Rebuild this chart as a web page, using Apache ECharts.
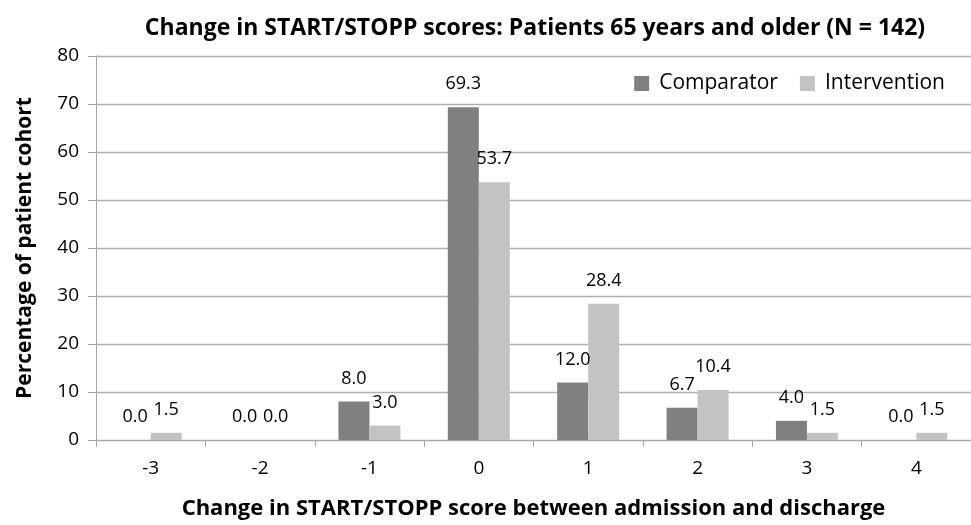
<!DOCTYPE html>
<html>
<head>
<meta charset="utf-8">
<script src="https://cdn.jsdelivr.net/npm/echarts@6/dist/echarts.min.js"></script>
<style>html,body{margin:0;padding:0;background:#fff}#c{width:971px;height:525px}</style>
</head>
<body>
<div id="c"></div>
<script>
const categories = ['-3', '-2', '-1', '0', '1', '2', '3', '4'];
const comparator = [0.0, 0.0, 8.0, 69.3, 12.0, 6.7, 4.0, 0.0];
const intervention = [1.5, 0.0, 3.0, 53.7, 28.4, 10.4, 1.5, 1.5];
const yTicks = { min: 0, max: 80, interval: 10 };
const titleText = 'Change in START/STOPP scores: Patients 65 years and older (N = 142)';
const xTitle = 'Change in START/STOPP score between admission and discharge';
const yTitle = 'Percentage of patient cohort';

const FONT = '"Open Sans"';
const chart = echarts.init(document.getElementById('c'), null, { renderer: 'canvas' });
const lbl = {
  show: true, position: 'top', distance: 14,
  fontFamily: FONT, fontSize: 18, color: '#000',
  formatter: p => Number(p.value).toFixed(1)
};
chart.setOption({
  animation: false,
  backgroundColor: '#fff',
  title: {
    text: titleText, left: 530, top: 12, textAlign: 'center',
    textStyle: { fontFamily: FONT, fontWeight: 'bold', fontSize: 23, color: '#000' }
  },
  legend: {
    right: 21, top: 68, icon: 'rect', itemWidth: 15, itemHeight: 15, itemGap: 22,
    textStyle: { fontFamily: FONT, fontSize: 21, color: '#000', padding: [0, 0, 0, 5] },
    data: ['Comparator', 'Intervention']
  },
  grid: { left: 96, right: 0, top: 56, bottom: 81, containLabel: false },
  xAxis: {
    type: 'category', data: categories,
    name: xTitle, nameLocation: 'middle', nameGap: 58,
    nameTextStyle: { fontFamily: FONT, fontWeight: 'bold', fontSize: 22, color: '#000' },
    axisLine: { lineStyle: { color: '#a6a6a6', width: 1 } },
    axisTick: { show: true, length: 7, interval: 0, alignWithLabel: false, lineStyle: { color: '#a6a6a6' } },
    axisLabel: { fontFamily: FONT, fontSize: 19, color: '#000', margin: 19, interval: 0 }
  },
  yAxis: {
    type: 'value', min: yTicks.min, max: yTicks.max, interval: yTicks.interval,
    name: yTitle, nameLocation: 'middle', nameGap: 60, nameRotate: 90,
    nameTextStyle: { fontFamily: FONT, fontWeight: 'bold', fontSize: 21, color: '#000' },
    axisLine: { show: true, lineStyle: { color: '#a6a6a6', width: 1 } },
    axisTick: { show: true, length: 8, lineStyle: { color: '#a6a6a6' } },
    axisLabel: { fontFamily: FONT, fontSize: 19, color: '#000', margin: 17 },
    splitLine: { show: true, lineStyle: { color: '#b0b0b0', width: 1.3 } }
  },
  series: [
    { name: 'Comparator', type: 'bar', data: comparator, barWidth: 31, barGap: '0%',
      itemStyle: { color: '#808080' }, label: lbl },
    { name: 'Intervention', type: 'bar', data: intervention, barWidth: 31, barGap: '0%',
      itemStyle: { color: '#c3c3c3' }, label: lbl }
  ]
});
</script>
</body>
</html>
